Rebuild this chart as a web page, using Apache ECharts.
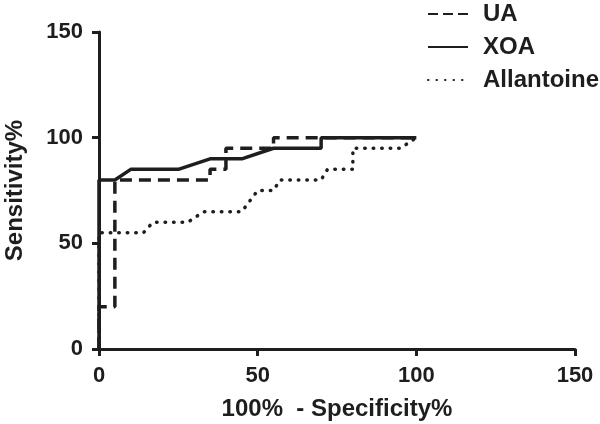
<!DOCTYPE html>
<html>
  <head>
    <meta charset="utf-8" />
    <title>ROC</title>
    <script src="https://cdn.jsdelivr.net/npm/echarts@6/dist/echarts.min.js"></script>
  </head>
  <body style="margin:0;background:#fff">
    <div id="main" style="width:600px;height:424px;"></div>
    <script type="text/javascript">
      // ROC curve points [100% - specificity, sensitivity]
      var uaPoints = [[0,0],[0,20],[5,20],[5,80],[35,80],[35,85],[40,85],[40,95],[55,95],[55,100],[100,100]];
      var xoaPoints = [[0,0],[0,80],[5,80],[10,85],[25,85],[35,90],[45,90],[55,95],[70,95],[70,100],[100,100]];
      var allantoinePoints = [[0,0],[0,55],[14,55],[17,60],[28,60],[33,65],[45,65],[50,75],[55,75],[57,80],[70,80],[72,85],[80,85],[80,95],[95,95],[100,100]];
      var seriesNames = ['UA', 'XOA', 'Allantoine'];
      var axisTicks = [0, 50, 100, 150];

      var ink = '#1e1e1e';
      var fontFam = '"Liberation Sans", Arial, sans-serif';

      var myChart = echarts.init(document.getElementById('main'));

      function axisCommon() {
        return {
          type: 'value',
          min: axisTicks[0],
          max: axisTicks[axisTicks.length - 1],
          interval: axisTicks[1] - axisTicks[0],
          splitLine: { show: false },
          axisLine: { show: true, lineStyle: { color: ink, width: 3 } },
          axisTick: { show: true, length: 7, lineStyle: { color: ink, width: 3 } },
          axisLabel: { color: ink, fontSize: 22, fontWeight: 'bold', fontFamily: fontFam },
          nameTextStyle: { color: ink, fontSize: 24, fontWeight: 'bold', fontFamily: fontFam }
        };
      }

      var xAxis = axisCommon();
      xAxis.name = '100%  - Specificity%';
      xAxis.nameLocation = 'middle';
      xAxis.nameGap = 48;
      xAxis.axisLabel.margin = 16;

      var yAxis = axisCommon();
      yAxis.name = 'Sensitivity%';
      yAxis.nameLocation = 'middle';
      yAxis.nameGap = 72;
      yAxis.axisLabel.margin = 16;

      var option = {
        animation: false,
        backgroundColor: '#fff',
        grid: { left: 99, right: 25, top: 32, bottom: 75, outerBoundsMode: 'none' },
        legend: {
          orient: 'vertical',
          left: 422,
          top: -3,
          itemWidth: 40,
          itemHeight: 14,
          itemGap: 9,
          data: [
            { name: seriesNames[0], lineStyle: { type: [10, 5] } },
            { name: seriesNames[1] },
            { name: seriesNames[2] }
          ],
          itemStyle: { opacity: 0 },
          textStyle: { color: ink, fontSize: 24, fontWeight: 'bold', fontFamily: fontFam, padding: [0, 0, 0, 10] }
        },
        xAxis: xAxis,
        yAxis: yAxis,
        series: [
          {
            name: seriesNames[0], type: 'line', data: uaPoints, symbol: 'none',
            lineStyle: { color: ink, width: 3.5, type: [12, 7] }, itemStyle: { color: ink }
          },
          {
            name: seriesNames[1], type: 'line', data: xoaPoints, symbol: 'none',
            lineStyle: { color: ink, width: 3.5, type: 'solid' }, itemStyle: { color: ink }
          },
          {
            name: seriesNames[2], type: 'line', data: allantoinePoints, symbol: 'none',
            lineStyle: { color: ink, width: 3.5, type: [0.5, 8], cap: 'round' }, itemStyle: { color: ink }
          }
        ]
      };
      myChart.setOption(option);
    </script>
  </body>
</html>
